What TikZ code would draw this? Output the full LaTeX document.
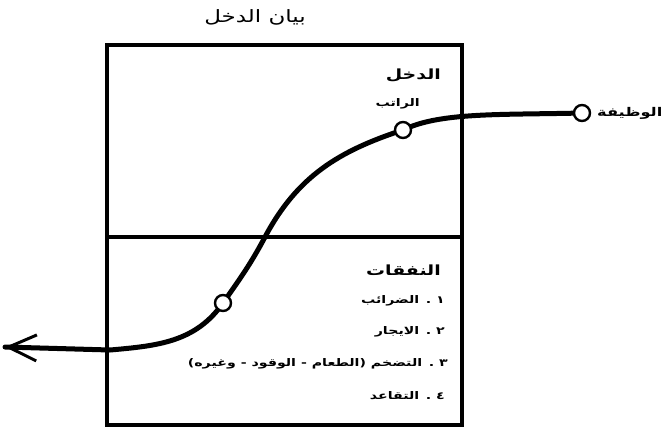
\documentclass[tikz,border=0pt]{standalone}
\usepackage{fontspec}
\newfontfamily\arabicfont[Script=Arabic,FakeStretch=1.35]{DejaVu Sans}
\TeXXeTstate=1
\usetikzlibrary{arrows.meta,backgrounds}
\tikzset{
  ar/.style={font=\arabicfont\bfseries\fontsize{10.5}{13}\selectfont, inner sep=0pt},
  arhead/.style={font=\arabicfont\bfseries\fontsize{14}{16}\selectfont, inner sep=0pt},
  dot/.style={circle, draw, fill=white, line width=2.4pt, minimum size=16pt, inner sep=0pt},
  frame/.style={line width=3.2pt},
  flow/.style={line width=5pt, line cap=round},
}
\begin{document}
\begin{tikzpicture}[x=1pt,y=1pt]
\useasboundingbox (0,0) rectangle (668,-431);
% frame
\draw[frame] (107,-45) rectangle (462,-425);
\draw[frame] (107,-237) -- (462,-237);
% texts
\node[inner sep=0pt, font=\arabicfont\fontsize{17}{20}\selectfont] (title) at (255,-17) {\beginR بيان الدخل\endR};
\node[arhead, anchor=east] (inc) at (441,-75) {\beginR الدخل\endR};
\node[ar, anchor=east] (sal) at (420,-104) {\beginR الراتب\endR};
\node[arhead, anchor=east] (exp) at (441,-270) {\beginR النفقات\endR};
\node[ar, anchor=east] (e1) at (445,-301) {\beginR ١ . الضرائب\endR};
\node[ar, anchor=east] (e2) at (445,-332) {\beginR ٢ . الايجار\endR};
\node[ar, anchor=east] (e3) at (448,-364) {\beginR ٣ . التضخم (الطعام - الوقود - وغيره)\endR};
\node[ar, anchor=east] (e4) at (445,-396) {\beginR ٤ . التقاعد\endR};
\node[ar, anchor=west, font=\arabicfont\bfseries\fontsize{12}{14}\selectfont] (job) at (597,-113) {\beginR الوظيفة\endR};
% circles
\node[dot] (c1) at (582,-113) {};
\node[dot] (c2) at (403,-130) {};
\node[dot] (c3) at (223,-303) {};
\coordinate (m) at (265,-237);
\coordinate (low) at (110,-350);
\coordinate (tip) at (5,-347);
\begin{pgfonlayer}{background}
\draw[flow] (c1.center) .. controls (500,-115) and (440,-112) .. (c2.center)
  to[out=198,in=62] (m)
  to[out=242,in=55] (c3.center)
  to[out=235,in=5] (low)
  -- (tip);
\end{pgfonlayer}
\draw[line width=3pt, -{Straight Barb[length=28pt,width=26pt]}] (low) -- (tip);
\end{tikzpicture}
\end{document}
